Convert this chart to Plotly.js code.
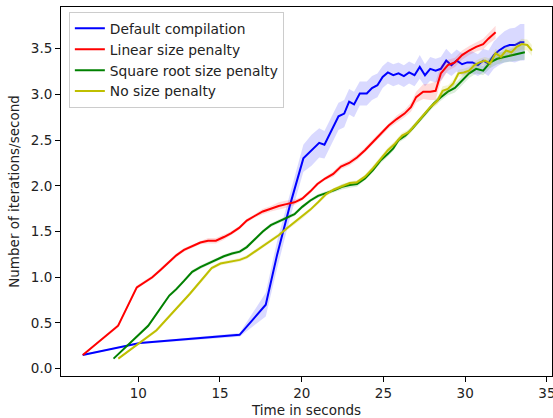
<!DOCTYPE html>
<html>
<head>
<meta charset="utf-8">
<script src="https://cdn.plot.ly/plotly-3.0.1.min.js"></script>
<style>
  html, body { margin: 0; padding: 0; background: #fff; }
  #chart { width: 553px; height: 418px; }
</style>
</head>
<body>
<div id="chart"></div>
<script>
// Mean throughput per configuration, with the spread across runs.
const defaultTime = [6.6, 8.9, 10.1, 16.2, 17.8, 18.5, 19.3, 20.1,
  20.6, 21.07, 21.39, 21.8, 22.25, 22.6, 22.9, 23.2, 23.55, 23.98,
  24.3, 24.63, 24.95, 25.27, 25.6, 25.92, 26.25, 26.57, 26.9, 27.22,
  27.54, 27.86, 28.19, 28.51, 28.84, 29.16, 29.48, 29.81, 30.13, 30.45,
  30.78, 31.1, 31.42, 31.75, 32.07, 32.4, 32.72, 33.04, 33.37, 33.62];
const defaultRate = [0.15, 0.24, 0.28, 0.37, 0.70, 1.25, 1.80, 2.30,
  2.39, 2.47, 2.45, 2.59, 2.76, 2.79, 2.92, 2.89, 3.01, 3.01,
  3.07, 3.10, 3.19, 3.24, 3.21, 3.23, 3.20, 3.24, 3.21, 3.30,
  3.21, 3.28, 3.26, 3.28, 3.37, 3.32, 3.37, 3.33, 3.35, 3.35,
  3.32, 3.37, 3.34, 3.43, 3.48, 3.52, 3.54, 3.54, 3.57, 3.57];
const defaultSpread = [0.01, 0.01, 0.01, 0.02, 0.13, 0.15, 0.14, 0.15,
  0.17, 0.16, 0.15, 0.15, 0.15, 0.15, 0.14, 0.14, 0.13, 0.13,
  0.13, 0.13, 0.12, 0.12, 0.12, 0.12, 0.12, 0.12, 0.12, 0.13,
  0.12, 0.13, 0.13, 0.13, 0.13, 0.12, 0.12, 0.12, 0.12, 0.12,
  0.12, 0.13, 0.14, 0.15, 0.16, 0.17, 0.18, 0.19, 0.20, 0.20];

const linearTime = [6.61, 8.77, 9.91, 10.39, 10.86, 11.36, 11.86, 12.33, 12.8, 13.3,
  13.8, 14.27, 14.75, 15.24, 15.67, 16.17, 16.64, 17.12, 17.62, 18.11,
  18.59, 19.06, 19.56, 20.03, 20.53, 20.96, 21.43, 21.93, 22.4, 22.9,
  23.38, 23.87, 24.35, 24.84, 25.32, 25.81, 26.29, 26.68, 27.0, 27.43,
  27.86, 28.19, 28.51, 28.94, 29.37, 29.81, 30.24, 30.67, 31.1, 31.42, 31.86];
const linearRate = [0.15, 0.47, 0.89, 0.95, 1.00, 1.08, 1.16, 1.24, 1.30, 1.34,
  1.38, 1.40, 1.40, 1.44, 1.48, 1.54, 1.62, 1.67, 1.72, 1.75,
  1.78, 1.80, 1.82, 1.86, 1.94, 2.02, 2.08, 2.13, 2.21, 2.25,
  2.31, 2.39, 2.48, 2.57, 2.66, 2.73, 2.79, 2.86, 2.97, 3.03,
  3.03, 3.04, 3.23, 3.32, 3.35, 3.43, 3.48, 3.52, 3.55, 3.61, 3.68];
const linearSpread = [0.01, 0.02, 0.02, 0.02, 0.02, 0.02, 0.02, 0.02, 0.02, 0.02,
  0.02, 0.03, 0.03, 0.03, 0.02, 0.02, 0.02, 0.02, 0.03, 0.03,
  0.04, 0.04, 0.03, 0.02, 0.02, 0.02, 0.02, 0.03, 0.03, 0.03,
  0.03, 0.03, 0.03, 0.03, 0.03, 0.04, 0.04, 0.05, 0.06, 0.08,
  0.09, 0.10, 0.09, 0.06, 0.05, 0.05, 0.05, 0.05, 0.06, 0.06, 0.07];

const sqrtTime = [8.49, 10.61, 11.9, 12.33, 12.8, 13.3, 13.8, 14.27, 14.75, 15.24,
  15.74, 16.21, 16.64, 17.12, 17.62, 18.11, 18.59, 19.06, 19.56, 20.03,
  20.53, 21.0, 21.5, 21.97, 22.47, 22.94, 23.38, 23.87, 24.35, 24.84,
  25.27, 25.6, 25.92, 26.35, 26.78, 27.22, 27.65, 28.08, 28.51, 28.94,
  29.37, 29.81, 30.24, 30.67, 31.1, 31.53, 31.96, 32.4, 32.83, 33.26, 33.65];
const sqrtRate = [0.11, 0.47, 0.80, 0.87, 0.96, 1.06, 1.11, 1.15, 1.19, 1.23,
  1.26, 1.28, 1.33, 1.41, 1.50, 1.57, 1.61, 1.65, 1.69, 1.77,
  1.84, 1.89, 1.92, 1.95, 1.99, 2.01, 2.02, 2.08, 2.17, 2.28,
  2.35, 2.41, 2.50, 2.55, 2.63, 2.72, 2.81, 2.90, 2.97, 3.03,
  3.07, 3.15, 3.23, 3.28, 3.26, 3.35, 3.39, 3.41, 3.43, 3.45, 3.46];
const sqrtSpread = [0.01, 0.02, 0.02, 0.02, 0.02, 0.02, 0.02, 0.02, 0.02, 0.02,
  0.02, 0.02, 0.02, 0.02, 0.02, 0.02, 0.02, 0.02, 0.02, 0.02,
  0.02, 0.02, 0.02, 0.02, 0.03, 0.03, 0.03, 0.02, 0.02, 0.03,
  0.03, 0.03, 0.03, 0.03, 0.03, 0.03, 0.03, 0.03, 0.04, 0.04,
  0.05, 0.05, 0.05, 0.05, 0.05, 0.06, 0.06, 0.06, 0.07, 0.08, 0.08];

const noPenaltyTime = [8.78, 11.12, 13.16, 14.0, 14.49, 15.03, 15.57, 16.21, 16.64, 17.12,
  17.62, 18.11, 18.59, 19.06, 19.56, 20.03, 20.53, 21.0, 21.5, 21.97,
  22.47, 22.94, 23.38, 23.87, 24.35, 24.84, 25.27, 25.7, 26.14, 26.57,
  27.0, 27.43, 27.86, 28.3, 28.62, 28.94, 29.27, 29.59, 29.91, 30.24,
  30.56, 30.88, 31.21, 31.53, 31.86, 32.18, 32.5, 32.83, 33.15, 33.47, 33.8, 34.08];
const noPenaltyRate = [0.11, 0.42, 0.82, 0.99, 1.10, 1.15, 1.17, 1.19, 1.22, 1.28,
  1.34, 1.40, 1.46, 1.53, 1.60, 1.66, 1.74, 1.82, 1.91, 1.96,
  2.00, 2.03, 2.04, 2.10, 2.19, 2.30, 2.39, 2.46, 2.55, 2.59,
  2.68, 2.77, 2.86, 2.93, 3.04, 3.06, 3.12, 3.23, 3.24, 3.26,
  3.32, 3.35, 3.37, 3.34, 3.45, 3.41, 3.48, 3.46, 3.52, 3.55, 3.54, 3.48];
const noPenaltySpread = [0.01, 0.02, 0.02, 0.02, 0.02, 0.02, 0.02, 0.02, 0.02, 0.02,
  0.02, 0.02, 0.02, 0.02, 0.02, 0.02, 0.02, 0.02, 0.02, 0.02,
  0.02, 0.02, 0.02, 0.02, 0.03, 0.03, 0.03, 0.03, 0.03, 0.03,
  0.03, 0.03, 0.03, 0.04, 0.05, 0.04, 0.04, 0.04, 0.04, 0.04,
  0.04, 0.04, 0.04, 0.05, 0.05, 0.05, 0.05, 0.05, 0.05, 0.06, 0.06, 0.06];

const seriesNames = ["Default compilation", "Linear size penalty",
  "Square root size penalty", "No size penalty"];
const lineColors = ["#0000ff", "#ff0000", "#008000", "#bfbf00"];
const bandColors = ["rgba(0,0,255,0.15)", "rgba(255,0,0,0.14)",
  "rgba(0,128,0,0.14)", "rgba(191,191,0,0.17)"];

const series = [
  [defaultTime, defaultRate, defaultSpread],
  [linearTime, linearRate, linearSpread],
  [sqrtTime, sqrtRate, sqrtSpread],
  [noPenaltyTime, noPenaltyRate, noPenaltySpread]
];

const font = "DejaVu Sans, Liberation Sans, sans-serif";
const traces = [];
series.forEach(([t, r, s], i) => {
  const upper = r.map((v, k) => v + s[k]);
  const lower = r.map((v, k) => v - s[k]);
  traces.push({
    x: t.concat(t.slice().reverse()),
    y: upper.concat(lower.slice().reverse()),
    type: "scatter", mode: "lines", fill: "toself",
    fillcolor: bandColors[i], line: { width: 0 },
    showlegend: false, hoverinfo: "skip"
  });
  traces.push({
    x: t, y: r, type: "scatter", mode: "lines",
    name: seriesNames[i],
    line: { color: lineColors[i], width: 2 }
  });
});

const axisCommon = {
  showline: true, linecolor: "#000", linewidth: 1, mirror: true,
  ticks: "outside", ticklen: 5, tickwidth: 1, tickcolor: "#000",
  showgrid: false, zeroline: false,
  tickfont: { family: font, size: 13.5, color: "#222" }
};

const layout = {
  width: 553, height: 418,
  margin: { l: 61, r: 1, t: 7, b: 42 },
  paper_bgcolor: "#fff", plot_bgcolor: "#fff",
  hovermode: false,
  font: { family: font, color: "#222" },
  xaxis: Object.assign({}, axisCommon, {
    range: [5.275, 35.31], tick0: 0, dtick: 5,
    ticklabeloverflow: "allow",
    title: { text: "Time in seconds", font: { family: font, size: 13.5, color: "#222" }, standoff: 6 }
  }),
  yaxis: Object.assign({}, axisCommon, {
    range: [-0.08, 3.956], tick0: 0, dtick: 0.5, tickformat: ".1f",
    title: { text: "Number of iterations/second", font: { family: font, size: 13.5, color: "#222" }, standoff: 8 }
  }),
  legend: {
    x: 0.016, y: 0.987, xanchor: "left", yanchor: "top",
    bgcolor: "rgba(255,255,255,0.8)", bordercolor: "#cccccc", borderwidth: 1,
    font: { family: font, size: 13.8, color: "#222" }
  }
};

Plotly.newPlot("chart", traces, layout, { staticPlot: true, displayModeBar: false });
</script>
</body>
</html>
